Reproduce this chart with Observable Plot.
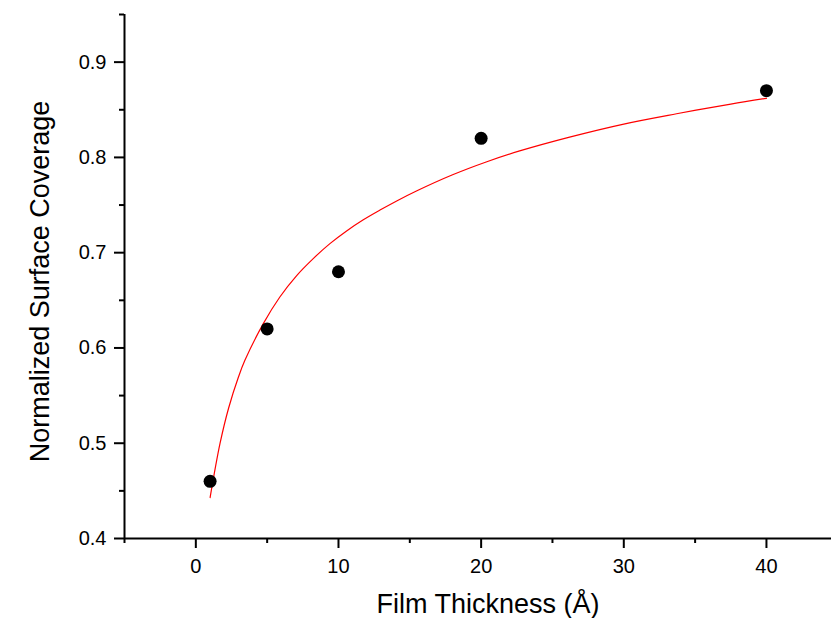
<!DOCTYPE html>
<html>
<head>
<meta charset="utf-8">
<script src="https://cdn.jsdelivr.net/npm/d3@7"></script>
<script src="https://cdn.jsdelivr.net/npm/@observablehq/plot@0.6"></script>
<style>
  html, body { margin: 0; padding: 0; background: #fff; }
  #chart svg { display: block; }
</style>
</head>
<body>
<div id="chart"></div>
<script>
// Measured surface coverage vs. film thickness
const thickness = [1, 5, 10, 20, 40];
const coverage = [0.46, 0.62, 0.68, 0.82, 0.87];

// Fitted curve, sampled along its length
const fitThickness = [1, 1.7, 2.3, 3, 3.44, 4.73, 5.89, 7.07, 8.23, 9.4, 10.57, 11.74, 12.91, 14.08, 15.5, 18, 20.4, 22.7, 26.2, 30, 33.7, 37.5, 40];
const fitCoverage = [0.443, 0.500, 0.537, 0.570, 0.587, 0.6255, 0.6535, 0.676, 0.6938, 0.7095, 0.7228, 0.7345, 0.7447, 0.7543, 0.765, 0.7818, 0.7955, 0.8068, 0.8213, 0.835, 0.8458, 0.856, 0.862];

// Axis ticks
const xMajor = [0, 10, 20, 30, 40];
const xMinor = [-5, 5, 15, 25, 35];
const yMajor = [0.4, 0.5, 0.6, 0.7, 0.8, 0.9];
const yMinor = [0.45, 0.55, 0.65, 0.75, 0.85, 0.95];

const xTitle = "Film Thickness (Å)";
const yTitle = "Normalized Surface Coverage";

const points = thickness.map((t, i) => ({t, c: coverage[i]}));
const fit = fitThickness.map((t, i) => ({t, c: fitCoverage[i]}));

const font = "'Liberation Sans', Arial, Helvetica, sans-serif";

const chart = Plot.plot({
  width: 831,
  height: 618,
  marginLeft: 124,
  marginRight: 0,
  marginTop: 14,
  marginBottom: 80,
  style: {fontFamily: font, fontSize: "20px", color: "#000", background: "#fff"},
  x: {domain: [-5, 44.56]},
  y: {domain: [0.4, 0.95]},
  marks: [
    Plot.axisX({ticks: xMajor, tickSize: 10, strokeWidth: 2, tickPadding: 10, fontSize: 20, label: null}),
    Plot.axisX({ticks: xMinor, tickSize: 5, strokeWidth: 2, text: null, label: null}),
    Plot.axisY({ticks: yMajor, tickSize: 10, strokeWidth: 2, tickPadding: 8, fontSize: 20, tickFormat: ".1f", label: null}),
    Plot.axisY({ticks: yMinor, tickSize: 5, strokeWidth: 2, text: null, label: null}),
    Plot.ruleY([0.4], {stroke: "#000", strokeWidth: 2}),
    Plot.ruleX([-5], {stroke: "#000", strokeWidth: 2}),
    Plot.line(fit, {x: "t", y: "c", stroke: "#ff0000", strokeWidth: 1.2, curve: "catmull-rom"}),
    Plot.dot(points, {x: "t", y: "c", r: 6.5, fill: "#000", stroke: "none"}),
    Plot.text([xTitle], {frameAnchor: "bottom", dx: 10, dy: 66, fontSize: 27, lineAnchor: "middle", textAnchor: "middle", fill: "#000"}),
    Plot.text([yTitle], {frameAnchor: "left", dx: -84, dy: 5, rotate: -90, fontSize: 27, lineAnchor: "middle", textAnchor: "middle", fill: "#000"})
  ]
});

document.getElementById("chart").appendChild(chart);
</script>
</body>
</html>
